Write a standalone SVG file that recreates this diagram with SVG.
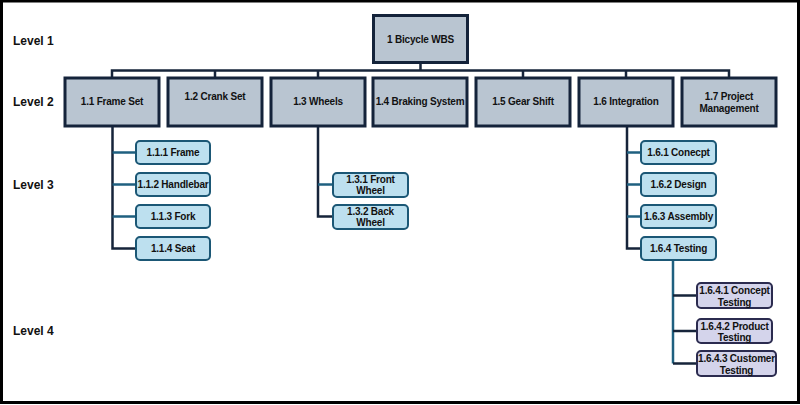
<svg xmlns="http://www.w3.org/2000/svg" width="800" height="405" viewBox="0 0 800 405">
<style>
text{font-family:"Liberation Sans",Arial,sans-serif;font-weight:bold;fill:#111;text-anchor:middle}
.lvl{font-size:12px;text-anchor:start}
.t{font-size:10px;letter-spacing:-0.2px}
.n12 rect{fill:#b9c5d1;stroke:#14233a;stroke-width:3}
.n3 rect{fill:#bde0ef;stroke:#1b5775;stroke-width:2}
.n4 rect{fill:#d4d4eb;stroke:#2b2b4f;stroke-width:2}
.cd{fill:none;stroke:#16243a;stroke-width:2.5}
.ct{fill:none;stroke:#1f6080;stroke-width:2.5}
</style>
<rect x="0" y="0" width="800" height="405" fill="#fff"/>
<rect x="1.5" y="1" width="797" height="401.5" fill="none" stroke="#000" stroke-width="3"/>
<g id="levels">
<text class="lvl" x="13" y="45">Level 1</text>
<text class="lvl" x="13" y="106">Level 2</text>
<text class="lvl" x="13" y="189">Level 3</text>
<text class="lvl" x="13" y="335">Level 4</text>
</g>
<g id="connectors">
<path class="cd" d="M420.5 63V70.5M112 77V70.5H729V77M215 70.5V77M318 70.5V77M523 70.5V77M626 70.5V77"/>
<path class="cd" d="M112.5 127V248.5H136"/>
<path class="ct" d="M112.5 152.5H136M112.5 184.5H136M112.5 216.5H136"/>
<path class="cd" d="M318 127V216.5H333"/>
<path class="ct" d="M318 184.5H333"/>
<path class="cd" d="M627 127V248.5H641"/>
<path class="ct" d="M627 152.5H641M627 184.5H641M627 216.5H641"/>
<path class="ct" d="M673 260V363.5"/>
<path class="cd" d="M673 295.5H697M673 331H697M673 363.5H697"/>
</g>
<g id="n1" class="n12"><rect x="373.5" y="15.5" width="94" height="47"/><text class="t" x="420.5" y="43">1 Bicycle WBS</text></g>
<g id="n1_1" class="n12"><rect x="65" y="78" width="94" height="48"/><text class="t" x="112" y="105">1.1 Frame Set</text></g>
<g id="n1_2" class="n12"><rect x="168" y="78" width="94" height="48"/><text class="t" x="215" y="100">1.2 Crank Set</text></g>
<g id="n1_3" class="n12"><rect x="271" y="78" width="94" height="48"/><text class="t" x="318" y="105">1.3 Wheels</text></g>
<g id="n1_4" class="n12"><rect x="373" y="78" width="94" height="48"/><text class="t" x="420" y="105">1.4 Braking System</text></g>
<g id="n1_5" class="n12"><rect x="476" y="78" width="94" height="48"/><text class="t" x="523" y="105">1.5 Gear Shift</text></g>
<g id="n1_6" class="n12"><rect x="579" y="78" width="94" height="48"/><text class="t" x="626" y="105">1.6 Integration</text></g>
<g id="n1_7" class="n12"><rect x="682" y="78" width="94" height="48"/><text class="t" x="729" y="100">1.7 Project</text><text class="t" x="729" y="111.5">Management</text></g>
<g id="n1_1_1" class="n3"><rect x="136" y="141" width="74" height="23" rx="4"/><text class="t" x="173" y="156">1.1.1 Frame</text></g>
<g id="n1_1_2" class="n3"><rect x="136" y="173" width="74" height="23" rx="4"/><text class="t" x="173" y="188">1.1.2 Handlebar</text></g>
<g id="n1_1_3" class="n3"><rect x="136" y="205" width="74" height="23" rx="4"/><text class="t" x="173" y="220">1.1.3 Fork</text></g>
<g id="n1_1_4" class="n3"><rect x="136" y="237" width="74" height="23" rx="4"/><text class="t" x="173" y="252">1.1.4 Seat</text></g>
<g id="n1_3_1" class="n3"><rect x="333" y="173" width="75" height="24" rx="4"/><text class="t" x="370.5" y="183">1.3.1 Front</text><text class="t" x="370.5" y="194">Wheel</text></g>
<g id="n1_3_2" class="n3"><rect x="333" y="205" width="75" height="24" rx="4"/><text class="t" x="370.5" y="215">1.3.2 Back</text><text class="t" x="370.5" y="226">Wheel</text></g>
<g id="n1_6_1" class="n3"><rect x="641" y="141" width="75" height="23" rx="4"/><text class="t" x="678.5" y="156">1.6.1 Conecpt</text></g>
<g id="n1_6_2" class="n3"><rect x="641" y="173" width="75" height="23" rx="4"/><text class="t" x="678.5" y="188">1.6.2 Design</text></g>
<g id="n1_6_3" class="n3"><rect x="641" y="205" width="75" height="23" rx="4"/><text class="t" x="678.5" y="220">1.6.3 Assembly</text></g>
<g id="n1_6_4" class="n3"><rect x="641" y="237" width="75" height="23" rx="4"/><text class="t" x="678.5" y="252">1.6.4 Testing</text></g>
<g id="n1_6_4_1" class="n4"><rect x="697" y="283" width="75" height="25" rx="4"/><text class="t" x="734.5" y="294">1.6.4.1 Concept</text><text class="t" x="734.5" y="305.5">Testing</text></g>
<g id="n1_6_4_2" class="n4"><rect x="697" y="319" width="75" height="24" rx="4"/><text class="t" x="734.5" y="330">1.6.4.2 Product</text><text class="t" x="734.5" y="341">Testing</text></g>
<g id="n1_6_4_3" class="n4"><rect x="697" y="351" width="79" height="25" rx="4"/><text class="t" x="736.5" y="362">1.6.4.3 Customer</text><text class="t" x="736.5" y="373.5">Testing</text></g>
</svg>
